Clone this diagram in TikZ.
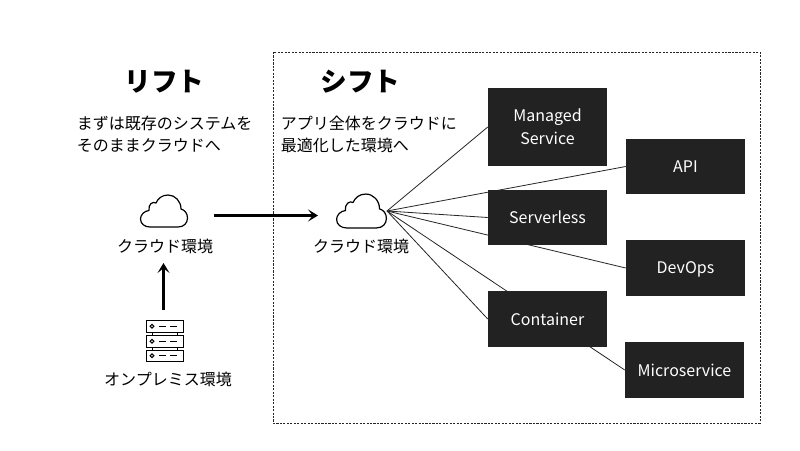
\documentclass[tikz,border=0pt]{standalone}
\usepackage{fontspec}
\setmainfont{Noto Sans CJK JP}
\usetikzlibrary{arrows.meta}
\definecolor{boxfill}{HTML}{222222}
\pgfdeclarelayer{paper}
\pgfdeclarelayer{links}
\pgfsetlayers{paper,links,main}
\newcommand{\cloudshape}[2]{%
  \draw[line width=0.9pt,black,shift={(#1)},scale=#2,line join=round]
    (-14,-16) -- (14,-16)
    .. controls (20,-16) and (23.5,-12) .. (23.5,-7)
    .. controls (23.5,-2) and (20.5,1) .. (17,2)
    .. controls (17,10) and (11,16) .. (4,16)
    .. controls (-2,16) and (-6,12.5) .. (-8,8)
    .. controls (-11,10) and (-16,7) .. (-15,0.5)
    .. controls (-20,0) and (-23.5,-4) .. (-23.5,-8)
    .. controls (-23.5,-13) and (-19,-16) .. (-14,-16) -- cycle;}
\newcommand{\serverrow}[1]{%
  \draw[line width=0.7pt] (146,#1) rectangle (183,#1-11.5);
  \draw[line width=0.8pt] (152,#1-5.75) circle (1.9);
  \draw[line width=0.8pt] (159,#1-5.75) -- (166,#1-5.75) (170,#1-5.75) -- (177,#1-5.75);}
\tikzset{
  x=0.75pt,y=0.75pt,
  darkbox/.style={fill=boxfill,draw=none,text=white,inner sep=0pt,align=center,font=\fontsize{12pt}{17.5pt}\selectfont,minimum width=89.25pt},
  link/.style={draw=black!85,line width=0.6pt},
  bigarrow/.style={line width=2.25pt,-{Stealth[length=7.5pt,width=9pt,inset=3.5pt]}},
  title/.style={font=\fontsize{20pt}{24pt}\selectfont\bfseries,inner sep=0pt},
  body/.style={font=\fontsize{12pt}{16.5pt}\selectfont,inner sep=0pt,align=left,anchor=west},
  caption/.style={font=\fontsize{12pt}{14pt}\selectfont,inner sep=0pt},
}
\begin{document}
\begin{tikzpicture}
\useasboundingbox (0,0) rectangle (800,-450);
\begin{pgfonlayer}{paper}
\fill[white] (0,0) rectangle (800,-450);
\end{pgfonlayer}
\draw[line width=0.5pt,dash pattern=on 1.6pt off 1pt,black!85] (273,-52) rectangle (760,-423);

\node[title] (liftT) at (164.5,-82) {リフト};
\node[title] (shiftT) at (360.5,-82) {シフト};
\node[body] (liftB) at (76.5,-134) {まずは既存のシステムを\\そのままクラウドへ};
\node[body] (shiftB) at (280.5,-134) {アプリ全体をクラウドに\\最適化した環境へ};

\coordinate (hub) at (387,-211);
\coordinate (arrowA) at (214,-215.5);
\coordinate (arrowB) at (318,-215.5);
\coordinate (arrowC) at (163.5,-310);
\coordinate (arrowD) at (163.5,-263);

\node[darkbox,minimum height=58.5pt] (managed) at (547.5,-127) {Managed\\Service};
\node[darkbox,minimum height=41.5pt] (server) at (547.5,-217.5) {Serverless};
\node[darkbox,minimum height=41.5pt] (container) at (547.5,-319) {Container};
\node[darkbox,minimum height=41.5pt] (api) at (685.5,-166.5) {API};
\node[darkbox,minimum height=41.5pt,text depth=0pt] (devops) at (685.5,-268) {DevOps};
\node[darkbox,minimum height=41.5pt] (micro) at (684.5,-370) {Microservice};

\begin{pgfonlayer}{links}
\foreach \t in {managed,api,server,devops,container,micro}{
  \draw[link] (hub) -- (\t.west);
}
\end{pgfonlayer}

\cloudshape{164,-211}{1}
\cloudshape{361.5,-211}{1.06}
\node[caption] (capA) at (165,-246) {クラウド環境};
\node[caption] (capB) at (361,-246) {クラウド環境};
\node[caption] (capC) at (168,-379) {オンプレミス環境};

\draw[bigarrow] (arrowA) -- (arrowB);
\draw[bigarrow] (arrowC) -- (arrowD);

\serverrow{-320.5}
\serverrow{-335.5}
\serverrow{-350}
\draw[line width=0.7pt] (152,-332) -- (152,-335.5) (177,-332) -- (177,-335.5)
  (152,-347) -- (152,-350) (177,-347) -- (177,-350);
\end{tikzpicture}
\end{document}
